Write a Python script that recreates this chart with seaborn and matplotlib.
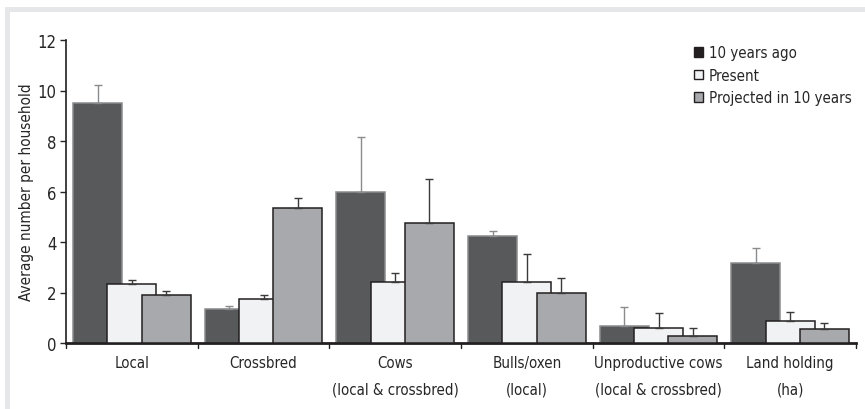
import matplotlib
matplotlib.use("Agg")
import matplotlib.pyplot as plt
from matplotlib.patches import Rectangle
import seaborn as sns
import pandas as pd

# =========================
# DATA
# =========================
categories = ["Local", "Crossbred", "Cows\n(local & crossbred)", "Bulls/oxen\n(local)",
              "Unproductive cows\n(local & crossbred)", "Land holding\n(ha)"]
periods = ["10 years ago", "Present", "Projected in 10 years"]

ten_years_ago = [9.5, 1.36, 5.98, 4.22, 0.66, 3.16]
present = [2.34, 1.75, 2.40, 2.42, 0.58, 0.86]
projected = [1.91, 5.33, 4.74, 1.98, 0.29, 0.57]

# upper end of the error bars
ten_years_ago_err = [10.2, 1.48, 8.17, 4.44, 1.41, 3.75]
present_err = [2.5, 1.89, 2.79, 3.51, 1.20, 1.22]
projected_err = [2.05, 5.73, 6.48, 2.59, 0.58, 0.79]

colors = ["#58595b", "#f1f2f3", "#a7a9ac"]
edge_colors = ["#8a8b8d", "#231f20", "#231f20"]
err_colors = ["#8a8b8d", "#3a3a3a", "#3a3a3a"]

df = pd.DataFrame({
    "category": categories * 3,
    "period": [p for p in periods for _ in categories],
    "value": ten_years_ago + present + projected,
})
tops = [ten_years_ago_err, present_err, projected_err]

# =========================
# PLOT
# =========================
sns.set_style("white")
plt.rcParams["font.family"] = ["DejaVu Sans"]
plt.rcParams["font.stretch"] = "condensed"

fig = plt.figure(figsize=(8.65, 4.10), dpi=100)
ax = fig.add_axes([66 / 865, 66 / 410, (856 - 66) / 865, (344 - 41) / 410])

sns.barplot(data=df, x="category", y="value", hue="period", hue_order=periods,
            palette=colors, width=0.78, dodge=True, errorbar=None, ax=ax,
            saturation=1, legend=False)

# overlapping bars: widen each bar around its centre
bar_w = 0.372
n = len(categories)
for i, p in enumerate(ax.patches[:3 * n]):
    h = i // n
    cx = p.get_x() + p.get_width() / 2
    p.set_width(bar_w)
    p.set_x(cx - bar_w / 2)
    p.set_edgecolor(edge_colors[h])
    p.set_linewidth(1.1)
    p.set_zorder(2 + h)
    val = p.get_height()
    up = tops[h][i % n] - val
    ax.errorbar(cx, val, yerr=[[0], [up]], fmt="none", ecolor=err_colors[h],
                elinewidth=1.0, capsize=3, capthick=1.0, zorder=2 + h + 0.5)

ax.set_xlim(-0.5, n - 0.5)
ax.set_ylim(0, 12)
ax.set_yticks([0, 2, 4, 6, 8, 10, 12])
ax.set_xticks(range(n))
ax.set_xticklabels(categories, fontsize=10.8, linespacing=1.95)
ax.tick_params(axis="x", length=0, pad=9)
ax.tick_params(axis="y", length=4, width=1, labelsize=12, left=True, pad=3)
ax.set_xlabel("")
ax.set_ylabel("Average number per household", fontsize=11, labelpad=2)

# separator ticks between categories
for b in range(n + 1):
    ax.plot([b - 0.5, b - 0.5], [0, -0.2], color="#231f20", lw=1, clip_on=False)

sns.despine(ax=ax, top=True, right=True)
ax.spines["left"].set_linewidth(1.2)
ax.spines["bottom"].set_linewidth(2)
for s in ["left", "bottom"]:
    ax.spines[s].set_color("#231f20")

handles = [Rectangle((0, 0), 1, 1, facecolor=c, edgecolor="#231f20", linewidth=1)
           for c in ["#231f20", colors[1], colors[2]]]
ax.legend(handles, periods, loc="upper right", bbox_to_anchor=(1.006, 1.013),
          frameon=False, fontsize=10.8, handlelength=0.6, handleheight=0.6,
          handletextpad=0.4, labelspacing=0.5, borderaxespad=0.2)

# grey frame strip on top and left
fig.add_artist(Rectangle((5 / 865, 0), 5 / 865, (410 - 8) / 410,
                         transform=fig.transFigure, color="#e6e7e8", lw=0))
fig.add_artist(Rectangle((5 / 865, (410 - 13) / 410), 1, 5 / 410,
                         transform=fig.transFigure, color="#e6e7e8", lw=0))

fig.savefig("out.png", dpi=100)
